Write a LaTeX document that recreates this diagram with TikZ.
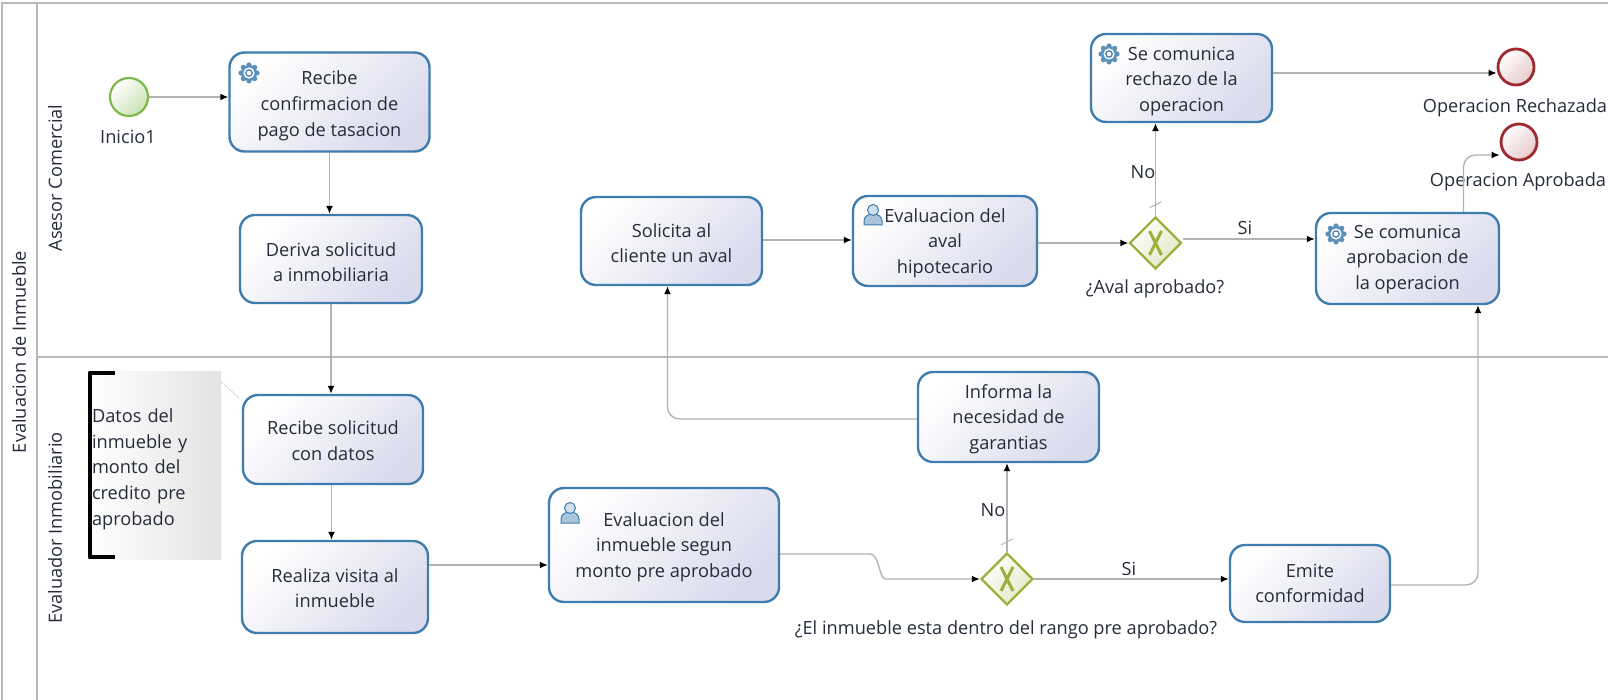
\documentclass[tikz,border=0pt]{standalone}
\usepackage{fontspec}
\setmainfont{Open Sans}
\usetikzlibrary{arrows.meta,shapes.geometric}

\definecolor{lanegray}{HTML}{B8B8B8}
\definecolor{flowgray}{HTML}{B2B2B2}
\definecolor{taskblue}{HTML}{3F7DAE}
\definecolor{tasklav}{HTML}{D9DAEC}
\definecolor{inktext}{HTML}{262C3A}
\definecolor{gatewayolive}{HTML}{9DB03C}
\definecolor{startgreen}{HTML}{7DB94A}
\definecolor{endred}{HTML}{9E2A2F}

\tikzset{
    lane/.style={draw=lanegray, line width=2pt},
    task/.style={draw=taskblue, line width=2.4pt, rounded corners=15pt, align=center, text=inktext,
        inner sep=0pt, shading=axis, left color=white, right color=tasklav, shading angle=45},
    flow/.style={draw=flowgray, line width=1.4pt, -{Latex[length=8pt,width=7pt,black]}},
    gateway/.style={diamond, aspect=1, draw=gatewayolive, line width=2.4pt, inner sep=0pt, minimum size=52pt,
        shading=axis, left color=white, right color=gatewayolive!30, shading angle=45,
        path picture={
            \draw[gatewayolive, line width=3pt] ([shift={(-6pt,12pt)}]path picture bounding box.center) -- ([shift={(6pt,-12pt)}]path picture bounding box.center);
            \draw[gatewayolive, line width=3pt] ([shift={(6pt,12pt)}]path picture bounding box.center) -- ([shift={(-6pt,-12pt)}]path picture bounding box.center);
        }},
    startevent/.style={circle, draw=startgreen, line width=2.2pt, inner sep=0pt, minimum size=38pt,
        shading=axis, left color=white, right color=startgreen!40, shading angle=45},
    endevent/.style={circle, draw=endred, line width=2.8pt, inner sep=0pt, minimum size=36pt,
        shading=axis, left color=white, right color=endred!25, shading angle=45},
    tag/.style={text=inktext, inner sep=0pt},
}

% taller first line, pushes a centred text down
\newcommand{\topgap}[1]{\rule{0pt}{#1}}

% gear icon of a service task
\newcommand{\gearicon}[1]{
    \foreach \a in {0,45,...,315} {
        \fill[taskblue!85] (#1) ++(\a:8pt) circle (2.6pt);
    }
    \fill[taskblue!85] (#1) circle (8pt);
    \fill[white] (#1) circle (5.6pt);
    \draw[taskblue, line width=1.2pt] (#1) circle (3.2pt);
}

% person icon of a user task
\newcommand{\usericon}[1]{
    \draw[taskblue, fill=taskblue!45, line width=1pt] (#1) ++(-9pt,-10pt) -- ++(0pt,4pt)
        .. controls +(0pt,5pt) and +(-4pt,0pt) .. ++(9pt,7pt)
        .. controls +(4pt,0pt) and +(0pt,5pt) .. ++(9pt,-7pt) -- ++(0pt,-4pt) -- cycle;
    \draw[taskblue, fill=taskblue!25, line width=1pt] (#1) ++(0pt,5pt) circle (5.5pt);
}

\begin{document}
\begin{tikzpicture}[x=1pt, y=-1pt, font=\fontsize{18.2}{25.7}\selectfont]
    \useasboundingbox (0,0) rectangle (1608,700);

    % Pool and lanes
    \draw[lane] (1608,3) -- (2,3) -- (2,700);
    \draw[lane] (37,3) -- (37,700);
    \draw[lane] (37,357) -- (1608,357);
    \node[tag, rotate=90] (pool) at (19,352) {Evaluacion de Inmueble};
    \node[tag, rotate=90] (laneasesor) at (55,178) {Asesor Comercial};
    \node[tag, rotate=90] (laneevaluador) at (55,528) {Evaluador Inmobiliario};

    % Upper lane
    \node[startevent] (inicio) at (129,97) {};
    \node[tag] (iniciolabel) at (128,137) {Inicio1};
    \node[task, minimum width=200pt, minimum height=99pt] (recibe) at (329.5,102) {\topgap{21pt}Recibe\\confirmacion de\\pago de tasacion};
    \node[task, minimum width=182pt, minimum height=88pt] (deriva) at (331,259) {\topgap{20pt}Deriva solicitud\\a inmobiliaria};
    \node[task, minimum width=181pt, minimum height=88pt] (solicita) at (671.5,241) {\topgap{18pt}Solicita al\\cliente un aval};
    \node[task, minimum width=184pt, minimum height=90pt] (evalaval) at (945,241) {\topgap{18pt}Evaluacion del\\aval\\hipotecario};
    \node[gateway] (gwaval) at (1155.5,243) {};
    \node[tag] (gwavallabel) at (1155,289) {¿Aval aprobado?};
    \node[task, minimum width=181pt, minimum height=88pt] (rechazo) at (1181.5,78) {\topgap{20pt}Se comunica\\rechazo de la\\operacion};
    \node[task, minimum width=183pt, minimum height=91pt] (aprobacion) at (1407.5,258.5) {\topgap{15pt}Se comunica\\aprobacion de\\la operacion};
    \node[endevent] (finrechazo) at (1516,67) {};
    \node[tag] (finrechazolabel) at (1515,108) {Operacion Rechazada};
    \node[endevent] (finaprobado) at (1519,142) {};
    \node[tag] (finaprobadolabel) at (1518,182) {Operacion Aprobada};

    % Lower lane
    \node[shading=axis, left color=white, right color=black!11, shading angle=90, minimum width=133pt, minimum height=188pt,
        text width=125pt, inner sep=0pt, align=left, text=inktext] (datos) at (154.5,465) {\topgap{22pt}Datos del\\inmueble y\\monto del\\credito pre\\aprobado};
    \node[task, minimum width=180pt, minimum height=89pt] (recibesol) at (333,439.5) {\topgap{16pt}Recibe solicitud\\con datos};
    \node[task, minimum width=186pt, minimum height=92pt] (realiza) at (335,587) {\topgap{16pt}Realiza visita al\\inmueble};
    \node[task, minimum width=230pt, minimum height=114pt] (evalinm) at (664,545) {\topgap{18pt}Evaluacion del\\inmueble segun\\monto pre aprobado};
    \node[task, minimum width=181pt, minimum height=90pt] (informa) at (1008.5,417) {\topgap{18pt}Informa la\\necesidad de\\garantias};
    \node[gateway] (gwrango) at (1007,579) {};
    \node[tag] (gwrangolabel) at (1006,630) {¿El inmueble esta dentro del rango pre aprobado?};
    \node[task, minimum width=160pt, minimum height=77pt] (emite) at (1310,583.5) {Emite\\conformidad};

    % Note bracket and its association
    \draw[black, line width=4.5pt, line join=round] ([shift={(27pt,-2pt)}]datos.north west) -- ([shift={(2pt,-2pt)}]datos.north west) -- ([shift={(2pt,2pt)}]datos.south west) -- ([shift={(27pt,2pt)}]datos.south west);
    \draw[flowgray, line width=0.8pt, densely dotted] ([yshift=-11pt]datos.north east) -- ([shift={(-2pt,-5pt)}]recibesol.north west);

    % Icons
    \gearicon{249,73}
    \gearicon{1109,54}
    \gearicon{1336,234}
    \usericon{873,215}
    \usericon{570,513}

    % Connectors
    \draw[flow] (inicio.east) -- (inicio.east -| recibe.west);
    \draw[flow] (recibe.south) -- (recibe.south |- deriva.north);
    \draw[flow] (deriva.south) -- (deriva.south |- recibesol.north);
    \draw[flow] ([xshift=-1.5pt]recibesol.south) -- ([xshift=-1.5pt]recibesol.south |- realiza.north);
    \draw[flow] ([yshift=22pt]realiza.east) -- ([yshift=-20pt]evalinm.west);
    \draw[flow] ([yshift=-9pt]evalinm.east) -- ++(90pt,0pt) .. controls +(9pt,0pt) and +(-6pt,0pt) .. ++(15pt,-25pt) -- (gwrango.west);
    \draw[flow] (gwrango.east) -- (gwrango.east -| emite.west);
    \draw[flow] (gwrango.north) -- (gwrango.north |- informa.south);
    \node[tag] (nolower) at (993,510) {No};
    \node[tag] (silower) at (1129,569) {Si};
    \draw[flow, rounded corners=12pt] ([yshift=-2pt]informa.west) -| ([xshift=-4pt]solicita.south);
    \draw[flow] ([yshift=1pt]solicita.east) -- ([yshift=1pt]evalaval.west);
    \draw[flow] ([yshift=-2pt]evalaval.east) -- (gwaval.west);
    \draw[flow] ([yshift=4pt]gwaval.east) -- ([yshift=4pt]gwaval.east -| aprobacion.west);
    \draw[flow] (gwaval.north) -- (gwaval.north |- rechazo.south);
    \node[tag] (noupper) at (1143,172) {No};
    \node[tag] (siupper) at (1245,228) {Si};
    \draw[flow] ([yshift=5pt]rechazo.east) -- ([yshift=5pt]rechazo.east -| finrechazo.west);
    \draw[flow, rounded corners=12pt] ([xshift=56pt]aprobacion.north) |- ([yshift=-13pt]finaprobado.west);
    \draw[flow, rounded corners=12pt] ([yshift=-1.5pt]emite.east) -| ([xshift=70.5pt]aprobacion.south);

    % Default flow ticks
    \draw[flowgray, line width=1pt] ([shift={(-6pt,8pt)}]gwaval.north) -- ([shift={(6pt,14pt)}]gwaval.north);
    \draw[flowgray, line width=1pt] ([shift={(-6pt,7pt)}]gwrango.north) -- ([shift={(6pt,13pt)}]gwrango.north);
\end{tikzpicture}
\end{document}
